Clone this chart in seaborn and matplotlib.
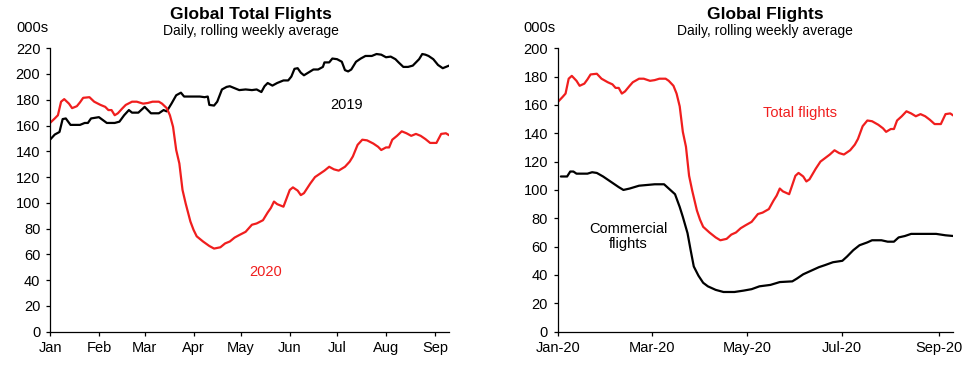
import numpy as np
import pandas as pd
import seaborn as sns
import matplotlib.pyplot as plt
import matplotlib.dates as mdates

# values (day of year, thousands of flights)
days_2019 = [0, 3, 6, 8, 10, 13, 19, 22, 24, 26, 31, 36, 41, 44, 47, 50, 52, 56, 60, 64, 69, 72, 74, 77, 80, 83,
             85, 95, 98, 100, 101, 104, 106, 109, 112, 114, 116, 120, 124, 128, 131, 134, 136, 138, 141, 144, 148,
             151, 153, 155, 157, 159, 161, 165, 167, 170, 173, 174, 177, 179, 182, 185, 187, 189, 191, 194, 197,
             200, 204, 207, 210, 213, 216, 219, 221, 224, 227, 230, 232, 234, 236, 238, 240, 243, 246, 249, 251, 253]
flights_2019 = [149, 153, 155, 165, 165.5, 160.5, 160.5, 162, 162, 165.5, 166.5, 162, 162, 163, 168, 172, 170, 170,
                174.5, 169.5, 169.5, 172, 171, 177, 183.5, 185.5, 182.5, 182.5, 182, 182.5, 176, 175.5, 178.5, 188,
                190, 190.5, 189.5, 187.5, 188, 187.5, 188, 186, 190.5, 193, 191, 193, 195, 195, 198, 204, 204.5, 201,
                199, 202, 203.5, 203.5, 205.5, 209, 209, 212, 211.5, 209.5, 203, 202, 203.5, 209.5, 212, 214, 214,
                215.5, 215, 213, 213.5, 211.5, 209, 205.5, 205.5, 206.5, 209, 211.5, 215.5, 215, 214, 211.5, 207,
                204.5, 205.5, 206.5]

days_2020 = [0, 3, 5, 7, 9, 12, 14, 17, 19, 21, 25, 28, 32, 35, 37, 39, 41, 43, 46, 48, 52, 55, 59, 62, 65, 69, 71,
             74, 76, 78, 80, 82, 84, 86, 89, 91, 93, 97, 101, 104, 108, 111, 114, 117, 120, 124, 128, 131, 135, 138,
             140, 142, 144, 148, 150, 152, 154, 157, 159, 161, 165, 168, 171, 174, 177, 180, 183, 187, 190, 192,
             195, 198, 201, 205, 208, 210, 213, 215, 217, 220, 223, 226, 229, 232, 235, 238, 241, 245, 248, 251, 253]
total_2020 = [162, 165.5, 168, 178.5, 180.5, 177, 173.5, 175, 178, 181.5, 182, 178.5, 176, 174.5, 172, 172, 168,
              169.5, 173.5, 176, 178.5, 178.5, 177, 177.5, 178.5, 178.5, 177, 173.5, 168, 159, 141, 130.5, 110, 99.5,
              85.5, 79, 74, 70, 66.5, 64.5, 65.5, 68.5, 70, 73, 75, 77.5, 83, 84, 86.5, 92.5, 96, 101, 99, 97, 103.5,
              110, 112, 109.5, 106, 107.5, 115, 120, 122.5, 125, 128, 126, 125, 128, 132, 136, 145, 149, 148.5, 146,
              143.5, 141, 143, 143, 149, 152, 155.5, 154, 152, 153.5, 152, 149.5, 146.5, 146.5, 153.5, 154, 152.5]

days_comm = [2, 6, 8, 10, 12, 19, 22, 25, 29, 35, 39, 42, 46, 52, 57, 62, 68, 71, 75, 78, 80, 83, 85, 87, 90, 93, 96,
             101, 106, 113, 119, 124, 129, 136, 142, 150, 153, 157, 162, 167, 171, 176, 182, 185, 189, 193, 198,
             201, 207, 211, 215, 218, 222, 226, 234, 242, 248, 253]
commercial = [109.5, 109.5, 113, 113, 111.5, 111.5, 112.5, 112, 109.5, 105, 102, 100, 101, 103, 103.5, 104, 104,
              101, 97, 88, 81, 69.5, 57.5, 46, 39.5, 34.5, 32, 29.5, 28, 28, 29, 30, 32, 33, 35, 35.5, 37.5, 40.5,
              43, 45.5, 47, 49, 50, 53, 57.5, 61, 63, 64.5, 64.5, 63.5, 63.5, 66.5, 67.5, 69, 69, 69, 68, 67.5]

start = pd.Timestamp("2020-01-01")


def to_dates(days):
    return start + pd.to_timedelta(days, unit="D")


df_2019 = pd.DataFrame({"date": to_dates(days_2019), "flights": flights_2019})
df_2020 = pd.DataFrame({"date": to_dates(days_2020), "flights": total_2020})
df_comm = pd.DataFrame({"date": to_dates(days_comm), "flights": commercial})

red = "#f01e1e"
sns.set_style("ticks")
plt.rcParams["font.family"] = ["Liberation Sans", "DejaVu Sans"]
plt.rcParams["font.size"] = 10
for k in ["text.color", "axes.labelcolor", "xtick.color", "ytick.color", "axes.edgecolor"]:
    plt.rcParams[k] = "black"

fig = plt.figure(figsize=(9.79, 3.71), dpi=100)
ax1 = fig.add_axes([0.0511, 0.106, 0.4076, 0.764])
ax2 = fig.add_axes([0.5697, 0.106, 0.4041, 0.764])

sns.lineplot(data=df_2019, x="date", y="flights", color="black", lw=1.6, ax=ax1)
sns.lineplot(data=df_2020, x="date", y="flights", color=red, lw=1.6, ax=ax1)
sns.lineplot(data=df_2020, x="date", y="flights", color=red, lw=1.6, ax=ax2)
sns.lineplot(data=df_comm, x="date", y="flights", color="black", lw=1.6, ax=ax2)

end = start + pd.Timedelta(days=253)
for ax, top in [(ax1, 220), (ax2, 200)]:
    ax.set_xlim(start, end)
    ax.set_ylim(0, top)
    ax.set_yticks(np.arange(0, top + 1, 20))
    ax.set_xlabel("")
    ax.set_ylabel("")
    sns.despine(ax=ax)
    for s in ["left", "bottom"]:
        ax.spines[s].set_linewidth(0.9)
    ax.tick_params(length=3, width=0.9, pad=4, labelsize=10.5)

ax1.xaxis.set_major_locator(mdates.MonthLocator())
ax1.xaxis.set_major_formatter(mdates.DateFormatter("%b"))
ax2.xaxis.set_major_locator(mdates.MonthLocator(bymonth=[1, 3, 5, 7, 9]))
ax2.xaxis.set_major_formatter(mdates.DateFormatter("%b-%y"))

# titles and labels
fig.text(250.8 / 979, 1 - 14 / 371, "Global Total Flights", ha="center", va="center", fontsize=12.5, fontweight="bold")
fig.text(250.8 / 979, 1 - 31 / 371, "Daily, rolling weekly average", ha="center", va="center", fontsize=10)
fig.text(32 / 979, 1 - 28 / 371, "000s", ha="center", va="center", fontsize=10.5)
fig.text(765 / 979, 1 - 14 / 371, "Global Flights", ha="center", va="center", fontsize=12.5, fontweight="bold")
fig.text(765 / 979, 1 - 31 / 371, "Daily, rolling weekly average", ha="center", va="center", fontsize=10)
fig.text(539 / 979, 1 - 28 / 371, "000s", ha="center", va="center", fontsize=10.5)

ax1.text(start + pd.Timedelta(days=188), 176, "2019", ha="center", va="center", fontsize=10.5)
ax1.text(start + pd.Timedelta(days=137), 46, "2020", ha="center", va="center", fontsize=10.5, color=red)
ax2.text(start + pd.Timedelta(days=155), 154, "Total flights", ha="center", va="center", fontsize=10.5, color=red)
ax2.text(start + pd.Timedelta(days=45), 67, "Commercial\nflights", ha="center", va="center", fontsize=10.5,
         linespacing=1.1)

fig.savefig("out.png", dpi=100)
